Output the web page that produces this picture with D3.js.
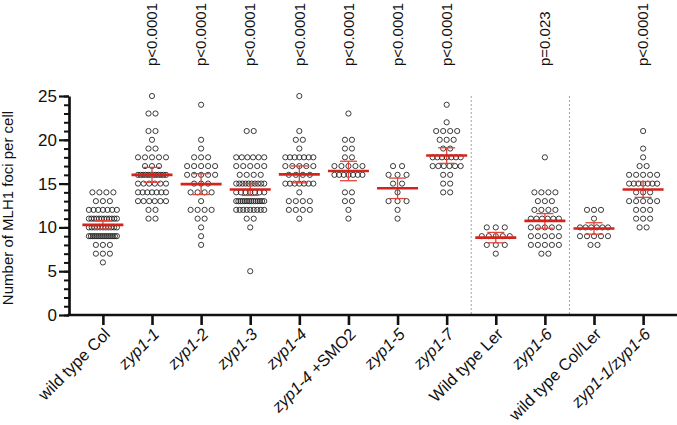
<!DOCTYPE html>
<html><head><meta charset="utf-8">
<script src="https://cdn.jsdelivr.net/npm/d3@7/dist/d3.min.js"></script>
<style>
body{margin:0;background:#fff}
svg{display:block}
text{font-family:"Liberation Sans",Arial,Helvetica,sans-serif;fill:#111}
</style>
</head><body>
<svg id="chart" width="677" height="425"></svg>
<script>
// ---- data: [foci per cell, number of cells] ----
const categories = ["wild type Col","zyp1-1","zyp1-2","zyp1-3","zyp1-4","zyp1-4 +SMO2","zyp1-5","zyp1-7","Wild type Ler","zyp1-6","wild type Col/Ler","zyp1-1/zyp1-6"];
const wildTypeCol  = [[14,4],[13,3],[12,7],[11,12],[10,11],[9,15],[8,3],[7,3],[6,1]];
const zyp1_1       = [[25,1],[23,2],[21,2],[20,1],[19,2],[18,5],[17,3],[16,12],[15,6],[14,7],[13,6],[12,2],[11,2]];
const zyp1_2       = [[24,1],[20,1],[19,1],[18,3],[17,5],[16,5],[15,3],[14,4],[13,1],[12,4],[11,2],[10,1],[9,1],[8,1]];
const zyp1_3       = [[21,2],[18,6],[17,5],[16,4],[15,10],[14,7],[13,14],[12,9],[11,2],[10,1],[5,1]];
const zyp1_4       = [[25,1],[21,1],[20,2],[19,1],[18,7],[17,5],[16,4],[15,7],[14,1],[13,4],[12,4],[11,1]];
const zyp1_4SMO2   = [[23,1],[20,2],[19,2],[18,2],[17,5],[16,7],[14,2],[13,2],[12,1],[11,1]];
const zyp1_5       = [[17,2],[16,3],[15,2],[14,1],[13,3],[12,1],[11,1]];
const zyp1_7       = [[24,1],[22,1],[21,4],[20,3],[19,2],[18,7],[17,6],[16,2],[15,2],[14,2]];
const wildTypeLer  = [[10,3],[9,5],[8,3],[7,1]];
const zyp1_6       = [[18,1],[14,4],[13,3],[12,4],[11,6],[10,5],[9,5],[8,5],[7,2]];
const wildTypeColLer = [[12,3],[11,1],[10,6],[9,5],[8,2]];
const zyp1_1zyp1_6 = [[21,1],[19,1],[18,1],[17,2],[16,5],[15,7],[14,3],[13,5],[12,3],[11,3],[10,2]];
const seriesRows = [wildTypeCol,zyp1_1,zyp1_2,zyp1_3,zyp1_4,zyp1_4SMO2,zyp1_5,zyp1_7,wildTypeLer,zyp1_6,wildTypeColLer,zyp1_1zyp1_6];
const pValues = [null,"p<0.0001","p<0.0001","p<0.0001","p<0.0001","p<0.0001","p<0.0001","p<0.0001",null,"p=0.023",null,"p<0.0001"];
const yTicks = [0,5,10,15,20,25];
const separatorsAfter = ["zyp1-7","zyp1-6"];
// label pieces: [text, italic]
const labelParts = [
  [["wild type Col",false]],[["zyp1-1",true]],[["zyp1-2",true]],[["zyp1-3",true]],[["zyp1-4",true]],
  [["zyp1-4",true],[" +SMO2",false]],[["zyp1-5",true]],[["zyp1-7",true]],[["Wild type Ler",false]],
  [["zyp1-6",true]],[["wild type Col/Ler",false]],[["zyp1-1/zyp1-6",true]]
];

const svg = d3.select("#chart");
const x = d3.scalePoint().domain(categories).range([69, 677]).padding(0.69);
const y = d3.scaleLinear().domain([0,25]).range([315, 96]);

// separators
separatorsAfter.forEach(c => {
  const i = categories.indexOf(c);
  const sx = (x(categories[i]) + x(categories[i+1]))/2;
  svg.append("line").attr("x1",sx).attr("x2",sx).attr("y1",y(25)).attr("y2",y(0))
    .attr("stroke","#8a8a8a").attr("stroke-width",0.8).attr("stroke-dasharray","2,2");
});

// dots
seriesRows.forEach((rows,gi) => {
  const cx = x(categories[gi]);
  const n = d3.sum(rows, r => r[1]);
  const base = n < 15 ? 9 : 7;
  const g = svg.append("g");
  rows.forEach(([v,k]) => {
    const s = k > 1 ? Math.min(base, 28/(k-1)) : 0;
    d3.range(k).forEach(j => {
      g.append("circle").attr("cx", cx + (j-(k-1)/2)*s).attr("cy", y(v)).attr("r",2.6)
        .attr("fill","none").attr("stroke","#1a1a1a").attr("stroke-width",0.85);
    });
  });
});

// mean + 95% CI
seriesRows.forEach((rows,gi) => {
  const vals = rows.flatMap(([v,k]) => d3.range(k).map(() => v));
  const n = vals.length, m = d3.mean(vals), sd = d3.deviation(vals);
  const t = 1.96 + 2.5/(n-1);
  const ci = t*sd/Math.sqrt(n);
  const cx = x(categories[gi]);
  const g = svg.append("g");
  g.append("line").attr("x1",cx).attr("x2",cx).attr("y1",y(m-ci)).attr("y2",y(m+ci))
    .attr("stroke","#e0453a").attr("stroke-width",1.3);
  [m-ci, m+ci].forEach(v => g.append("line").attr("x1",cx-8.5).attr("x2",cx+8.5).attr("y1",y(v)).attr("y2",y(v))
    .attr("stroke","#e0453a").attr("stroke-width",1.3));
  g.append("line").attr("x1",cx-20.5).attr("x2",cx+20.5).attr("y1",y(m)).attr("y2",y(m))
    .attr("stroke","#d5231b").attr("stroke-width",2.6);
});

// y axis (minor + major)
const yMinor = svg.append("g").attr("transform","translate(69,0)")
  .call(d3.axisLeft(y).tickValues(d3.range(0,26)).tickSize(5).tickFormat(""));
yMinor.select(".domain").remove();
yMinor.selectAll(".tick line").attr("stroke","#111").attr("stroke-width",2);
const yAxis = svg.append("g").attr("transform","translate(69,0)")
  .call(d3.axisLeft(y).tickValues(yTicks).tickSize(10).tickPadding(2).tickSizeOuter(0));
yAxis.select(".domain").attr("stroke","#111").attr("stroke-width",2.7);
yAxis.selectAll(".tick line").attr("stroke","#111").attr("stroke-width",2.2);
yAxis.selectAll(".tick text").style("font-size","17px").attr("fill","#111");

// x axis
const xAxis = svg.append("g").attr("transform","translate(0,315)")
  .call(d3.axisBottom(x).tickSize(10).tickSizeOuter(0).tickFormat(""));
xAxis.select(".domain").attr("stroke","#111").attr("stroke-width",2.7).attr("d","M67.6,0H677");
xAxis.selectAll(".tick line").attr("stroke","#111").attr("stroke-width",2.6);

// x labels
categories.forEach((c,i) => {
  const t = svg.append("text")
    .attr("transform",`translate(${x(c)+1},${325}) rotate(-45)`)
    .attr("text-anchor","end").attr("x",-2).attr("dy","0.75em").style("font-size","16.5px");
  labelParts[i].forEach(([s,it]) => t.append("tspan").text(s).style("font-style", it ? "italic" : "normal"));
});

// p-values
pValues.forEach((p,i) => {
  if (!p) return;
  svg.append("text").attr("transform",`translate(${x(categories[i])},66) rotate(-90)`)
    .attr("dy","0.35em").attr("text-anchor","start").style("font-size","15px").text(p);
});

// y title
svg.append("text").attr("transform","translate(13,208) rotate(-90)")
  .attr("text-anchor","middle").style("font-size","15px").text("Number of MLH1 foci per cell");
</script>
</body></html>
